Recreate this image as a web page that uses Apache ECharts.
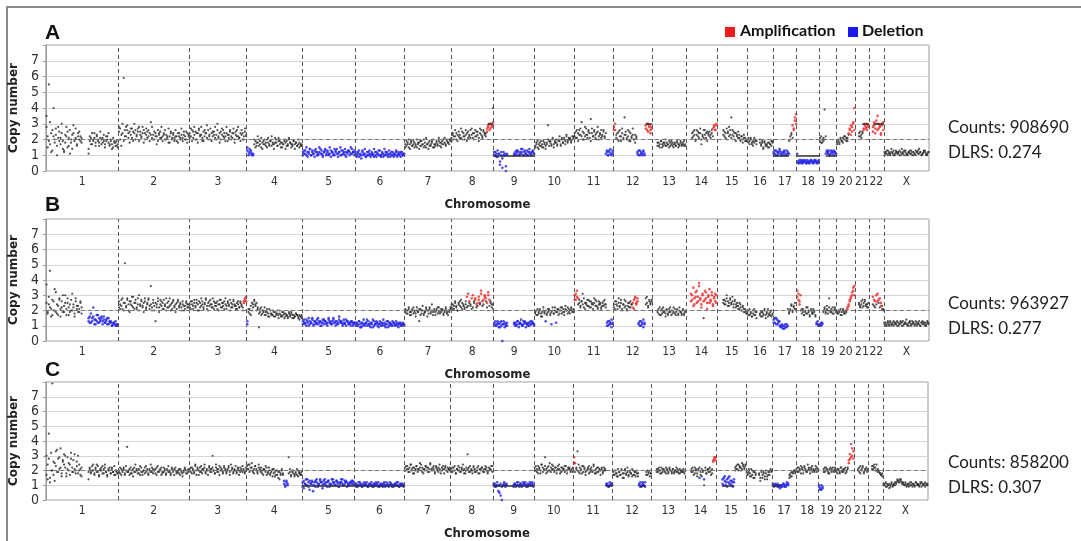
<!DOCTYPE html>
<html>
<head>
<meta charset="utf-8">
<script src="https://cdn.jsdelivr.net/npm/echarts@6/dist/echarts.min.js"></script>
<style>
html, body { margin: 0; padding: 0; background: #fff; }
#main { width: 1081px; height: 541px; }
</style>
</head>
<body>
<div id="main"></div>
<script>
// chromosomes and their lengths (Mb, hg19)
var chromNames = ['1','2','3','4','5','6','7','8','9','10','11','12','13','14','15','16','17','18','19','20','21','22','X']
var chromLengths = [249.25, 243.2, 198.0, 191.15, 180.9, 171.1, 159.1, 146.4, 141.2, 135.5, 135.0, 133.9,
  115.2, 107.3, 102.5, 90.4, 81.2, 78.1, 59.1, 63.0, 48.1, 51.3, 155.3]
var yTicks = [0, 1, 2, 3, 4, 5, 6, 7]

// copy number per bin, in tenths. letter sets the call: k normal, r amplification, b deletion. '.' = no data
var cnA = [
  '35 22 55 17 12 26 40 20 23 16 28 19 21 24 14 13 18 22 25 16 11 20 23 29 19 21 17 24 20 22 18 . . . . . 11 19 21 17 20 24 18 22 19 16 21 20 18 23 17 19 22 18 16 20 17 15 19 18 16 17',
  '25 27 16 24 59 22 28 26 21 25 23 27 19 24 26 22 25 28 23 21 24 26 20 23 25 22 24 31 21 23 20 24 22 19 23 25 21 22 24 20 23 21 18 22 24 20 23 21 22 19 24 22 20 23 21 25 22 20 24 23',
  '24 22 26 21 23 25 20 24 27 22 23 19 25 22 24 21 26 23 20 24 22 25 21 23 30 22 24 20 23 26 21 22 24 19 23 25 22 21 24 20 23 26 22 21 24 23 20 22 25 23',
  'b15 12 11 13 10 11 k17 19 16 18 20 17 15 18 19 17 16 20 18 17 19 16 18 17 21 18 16 19 17 18 15 17 19 18 16 17 20 18 17 16 19 17 18 16 17 18 16 17',
  'b12 11 13 10 12 11 14 10 12 11 13 12 10 11 12 14 11 10 12 13 11 12 10 11 13 12 11 10 12 14 11 12 10 13 11 12 10 12 11 13 12 11 14 12 10',
  'b11 10 12 9 11 10 13 10 11 9 12 10 11 10 12 11 9 10 12 11 10 13 10 11 9 10 12 11 10 11 9 12 10 11 10 12 9 11 10 12 11 10 11',
  '17 16 18 15 17 19 16 17 18 16 15 17 18 19 16 17 20 16 15 17 18 16 17 19 15 17 16 18 17 19 16 18 17 20 18 17 19 18 20 19',
  '21 23 20 22 24 19 22 23 21 25 22 20 23 24 21 22 26 23 21 24 22 25 23 21 24 26 22 25 23 24 r27 29 26 30 28 k40',
  'b10 12 11 9 11 4 10 2 12 10 0 11 . . . . . 10 12 11 13 10 12 11 14 10 12 11 13 10 12 11 12 13 11',
  '16 18 15 17 16 19 17 15 18 16 17 29 19 18 16 20 17 19 18 16 20 19 17 21 18 20 19 22 18 20 21 19 20 22',
  '22 25 21 24 26 23 31 20 24 22 27 23 25 21 33 24 22 26 23 20 25 22 24 21 23 26 22 24 b12 10 13 11 10 12',
  'r28 26 k23 20 25 22 19 24 21 34 23 20 22 25 19 21 23 20 18 22 b12 10 13 11 10 12 11 r29 26 30 28 24 27',
  '. . . . 18 16 17 19 15 18 17 16 18 17 19 16 17 18 15 17 16 18 17 16 19 17 18 16 17',
  '. . . . . 24 22 26 20 23 25 21 24 17 22 26 23 21 25 24 22 23 26 r27 29 26 30',
  '. . . . . 23 25 21 27 24 22 26 34 23 25 20 24 22 21 23 19 22 20 21 19 20',
  '20 18 19 21 17 19 18 20 19 . . 18 17 19 14 18 16 17 15 18 17 16 19',
  'b12 11 13 10 12 14 11 10 12 13 11 10 12 11 k20 23 21 r26 32 36',
  'b11 6 5 7 6 5 6 7 5 6 6 5 7 6 5 6 7 6 5 6',
  '21 18 20 19 39 22 b12 11 13 10 12 11 13 12 11',
  '17 19 18 20 19 21 20 22 19 21 23 r26 29 25 31 40',
  '. . . 24 22 23 25 r27 30 28 26 29',
  '. . . r28 31 24 30 35 27 29 23 30 26',
  '12 11 13 10 12 11 14 12 10 11 13 12 11 10 12 14 11 13 12 10 11 12 13 11 12 10 11 13 12 11 14 12 10 11 12 13 11 10 12'
]
// second read per bin, same layout
var cnA2 = [
  '28 15 19 31 24 13 22 18 27 10 21 25 17 30 19 12 23 28 15 21 26 18 14 24 20 27 16 22 25 19 21 . . . . . 14 22 17 24 19 21 16 23 20 18 25 17 21 19 15 22 20 24 17 19 14 21 18 16 19 15',
  '28 20 23 30 19 26 22 29 24 18 27 21 25 30 20 23 27 19 25 22 28 18 24 27 21 26 19 23 28 20 25 22 17 26 24 21 28 19 23 26 20 22 27 18 25 21 24 19 26 22 18 24 21 27 19 23 20 25 18 22',
  '21 27 19 25 28 20 24 18 26 23 28 21 19 26 24 29 20 22 27 19 25 23 28 20 26 21 18 25 27 22 24 19 28 23 21 26 20 24 27 18 25 22 28 21 19 26 24 20 27 22',
  'b13 10 14 12 11 10 k20 15 18 22 16 19 21 14 17 20 18 15 21 16 19 22 17 14 18 20 16 21 19 15 18 17 20 14 19 16 21 18 15 17 19 14 18 16 20 15 17 16',
  'b10 13 11 15 9 12 14 10 13 11 9 14 12 10 15 11 13 9 12 14 10 13 11 15 9 12 10 14 13 11 9 12 15 10 13 11 14 9 12 13 10 15 11 12 13',
  'b12 9 11 13 10 8 12 11 14 9 10 12 13 9 11 10 14 12 9 11 13 10 9 12 11 14 10 12 9 13 11 10 12 9 11 13 10 12 11 9 12 10 11',
  '15 19 17 20 14 18 16 19 15 17 20 18 14 16 19 17 15 18 21 17 14 19 16 18 20 15 17 19 16 21 18 15 19 17 21 16 20 18 17 20',
  '19 24 22 26 20 23 25 21 27 20 24 22 26 19 25 23 21 27 24 20 26 22 25 19 27 23 21 26 24 22 r25 28 30 27 29 31',
  'b12 10 9 13 11 6 12 8 10 11 3 10 . . . . . 11 10 13 12 10 11 14 12 10 13 11 10 12 14 11 10 12 11',
  '15 17 19 14 18 16 15 19 17 14 18 20 16 19 17 21 15 18 20 17 19 22 16 20 18 21 17 23 19 21 20 18 22 21',
  '24 21 26 19 23 27 22 25 20 28 23 21 26 24 19 27 22 25 21 24 28 20 23 26 22 25 21 b11 13 10 12 14 11 13',
  'r26 30 k21 24 19 26 22 27 20 23 25 21 26 19 24 22 27 20 23 21 b11 13 10 12 11 13 10 r27 30 25 29 26 28',
  '. . . . 16 18 15 19 17 16 18 20 16 17 15 18 19 16 17 18 16 19 15 17 18 16 17 19 16',
  '. . . . . 21 25 23 19 26 22 24 27 20 23 21 26 24 19 23 25 21 24 22 r28 26 29',
  '. . . . . 26 22 24 20 25 28 23 21 26 22 24 19 23 25 21 20 22 18 23 21 19',
  '19 21 17 20 18 16 21 19 17 . . 20 16 18 15 19 17 16 18 15 17 19 18',
  'b11 13 10 12 11 13 12 10 11 12 10 13 11 k19 22 24 r29 27 34 30',
  'b6 5 7 6 5 7 6 6 5 7 5 6 7 6 5 7 6 5 6 7',
  '19 22 18 21 20 b11 13 12 10 11 13 12 10 12 11',
  '18 20 17 21 19 18 22 20 21 19 r24 27 23 28 30 26',
  '. . . 22 25 21 24 r26 29 27 30 28',
  '. . . r25 29 27 32 26 30 28 24 29 31',
  '10 12 11 13 11 10 12 11 13 10 12 11 12 13 10 11 12 10 13 11 10 12 11 13 10 12 11 10 12 13 11 12 10 11 13 12 10 11 12'
]
var cnB = [
  '37 19 24 46 21 17 26 20 32 18 23 27 16 22 30 19 25 21 28 17 24 20 31 22 18 26 23 19 21 25 18 . . . . . b13 16 12 15 22 14 11 13 17 12 14 15 13 16 12 14 11 15 13 12 10 11 12 10 11 10',
  '22 24 27 21 25 51 23 28 20 26 24 29 22 25 27 21 24 30 23 26 22 25 28 21 24 27 23 36 22 25 20 13 24 26 22 27 23 25 21 24 28 22 26 23 20 25 27 22 24 21 26 23 25 22 24 20 23 26 22 24',
  '24 21 26 23 25 22 27 24 20 25 23 26 22 24 28 21 25 23 27 24 22 26 23 25 21 24 27 22 25 23 26 24 21 25 23 27 22 24 26 23 21 25 24 22 26 23 20 r26 28 29',
  'b11 k19 21 17 20 24 26 23 25 21 9 19 22 18 20 17 19 21 18 16 20 18 17 19 16 18 20 17 18 16 19 17 15 18 17 16 19 17 18 15 17 16 18 17 15 17 16 15',
  'b13 12 11 14 12 10 13 12 15 11 13 12 14 11 12 13 10 12 14 13 11 12 15 13 12 11 14 12 13 11 12 16 13 12 11 14 12 10 13 12 11 13 12 10 12',
  'b11 12 10 13 11 9 12 11 10 12 14 11 10 12 11 9 13 11 12 10 11 13 12 10 11 12 9 11 13 10 12 11 10 12 11 13 10 11 12 10 11 12 11',
  '19 20 18 21 19 17 20 22 19 18 20 19 13 21 18 20 17 19 22 20 18 21 19 24 17 20 19 21 18 22 20 19 21 18 20 22 19 17 20 21',
  '22 24 21 25 23 20 24 26 22 25 23 21 24 22 r31 k25 23 r28 k22 26 r27 24 k23 r29 k25 r33 26 k24 r30 28 k22 r32 27 k25 24 21',
  'b11 13 10 12 11 9 13 0 11 12 10 12 . . . . . 11 12 10 13 11 12 14 10 11 13 12 11 10 12 11 13 12 11',
  '18 20 17 19 21 18 16 20 19 b13 k18 21 20 17 19 22 18 20 b12 k19 21 18 20 22 19 17 21 20 22 19 18 21 20 19',
  'r30 27 33 28 k25 23 26 31 22 25 24 27 23 26 22 25 24 28 23 26 21 24 25 22 23 26 24 22 b12 10 13 11 9 12',
  '24 21 26 23 28 22 25 20 24 27 23 21 25 22 26 24 r22 27 29 25 28 b11 13 10 12 14 11 k28 25 22 27 24 26',
  '. . . . 19 21 17 20 18 22 19 16 20 18 21 19 17 20 22 18 19 21 17 20 19 18 20 17 19',
  '. . . . r31 27 35 24 29 33 26 38 28 22 30 k15 r27 32 25 29 34 26 30 23 28 31 25',
  '. . . . . 25 27 24 28 26 23 27 25 29 24 26 22 25 23 21 24 20 22 19 21 18',
  '18 20 17 19 16 18 21 17 19 . . 18 16 19 17 20 15 18 21 17 19 16 18',
  'b14 12 15 11 13 10 9 11 8 10 9 11 10 k19 21 23 20 22 25 21',
  'r33 27 24 30 k21 19 17 20 18 22 19 16 20 18 21 19 17 b12 11 10',
  'b10 12 11 k20 22 19 21 18 28 20 19 22 18 21 20',
  '19 18 20 17 19 21 18 20 19 r22 24 27 29 32 35 30',
  '. . . 24 23 26 22 25 27 23 24 22',
  '. . . 24 r27 k22 r30 26 k25 r28 23 k21 20',
  '11 12 10 13 11 12 10 11 13 12 11 10 12 11 13 12 10 11 12 14 11 10 12 11 13 12 10 11 12 11 13 10 12 11 12 10 11 13 12'
]
var cnB2 = [
  '25 18 29 22 16 27 20 34 19 24 17 28 21 26 19 23 30 17 25 22 19 27 20 24 16 28 21 23 19 26 22 . . . . . b15 12 18 13 16 11 14 17 12 15 13 16 11 14 12 13 15 11 12 13 10 12 11 13 10 11',
  '26 21 23 28 20 25 22 27 24 19 26 23 29 21 25 22 28 20 24 27 23 19 26 22 25 28 21 24 20 27 23 25 22 28 19 24 26 21 27 23 20 25 22 28 24 21 26 23 19 25 27 22 24 20 26 23 21 25 24 22',
  '22 26 24 21 27 23 25 20 26 22 28 24 21 25 27 23 20 26 24 22 28 21 25 23 26 20 24 27 22 25 21 28 23 26 24 20 25 22 27 24 23 21 26 22 25 24 22 r25 27 26',
  'b13 k21 18 23 25 22 27 24 20 22 18 21 17 20 19 22 17 19 16 21 18 17 20 16 19 17 18 15 20 17 16 19 18 16 17 15 18 16 19 17 15 16 18 17 16 14 16 17',
  'b11 14 12 10 13 15 11 12 14 10 13 11 12 15 13 10 12 14 11 13 12 10 14 12 11 13 15 12 10 13 11 14 12 13 10 12 11 14 13 11 12 10 13 11 12',
  'b12 10 11 13 9 12 10 14 11 12 10 13 11 9 12 14 10 11 13 12 9 11 10 12 14 10 11 13 9 12 11 10 13 12 10 11 12 9 11 12 10 11 10',
  '21 18 20 22 17 19 21 18 20 16 22 19 21 17 20 23 18 19 21 16 20 22 18 20 19 21 17 20 22 19 18 21 20 17 19 21 18 20 19 22',
  '24 21 23 26 22 20 25 23 27 21 24 22 26 r29 k23 r26 k24 21 r30 k25 r28 k22 r25 27 k24 r31 k23 r27 29 k26 r25 30 k23 26 22 24',
  'b12 10 11 13 9 12 10 11 13 9 11 10 . . . . . 12 10 11 13 9 12 11 10 13 12 9 11 12 10 13 11 12 10',
  '19 17 21 18 20 16 19 22 18 20 17 19 21 18 b11 k20 18 22 19 21 17 20 22 18 21 19 23 20 18 21 20 22 19 21',
  'r27 31 29 k24 27 22 26 24 28 21 25 23 27 22 26 24 21 25 27 23 22 26 24 21 25 23 27 24 b10 13 11 12 14 11',
  '22 26 24 21 25 23 27 21 24 22 26 20 23 25 22 24 r25 21 28 24 26 b12 10 13 11 9 12 k24 29 23 26 25 27',
  '. . . . 20 18 22 17 21 19 20 18 21 17 19 22 20 18 19 21 17 20 18 22 19 17 21 18 20',
  '. . . . r26 30 23 28 32 25 29 36 27 24 31 26 33 28 21 30 25 27 32 24 29 26 30',
  '. . . . . 27 24 26 30 23 25 28 24 26 22 27 24 23 21 25 22 20 23 21 19 20',
  '19 17 21 18 16 20 17 19 15 . . 17 19 16 18 21 17 19 16 18 17 20 17',
  'b12 15 11 14 12 13 10 9 10 8 11 9 k21 18 20 24 19 23 21 20',
  'r29 31 26 k20 18 21 17 19 22 18 20 17 21 19 18 20 16 b11 13 10',
  'b11 10 12 k19 21 18 23 20 22 19 21 18 20 22 19',
  '18 20 19 21 17 20 19 18 20 r21 23 26 28 30 33 36',
  '. . . 25 22 24 27 23 26 24 22 25',
  '. . . r29 k23 r26 k24 r31 27 k22 r25 k23 21',
  '12 10 11 12 10 13 11 12 10 11 12 13 10 11 12 10 13 11 12 11 10 12 13 10 11 12 11 13 10 12 11 10 12 13 11 12 10 12 11'
]
var cnC = [
  '30 14 45 12 20 79 17 25 33 19 28 21 35 18 26 31 22 16 29 20 24 32 19 27 21 18 23 30 20 17 22 . . . . . 14 21 19 23 20 18 22 24 19 17 21 20 23 18 22 19 16 21 20 18 22 19 17 20 19 18',
  '20 18 21 19 22 17 20 36 19 21 18 20 16 22 19 21 20 18 23 19 17 20 22 19 21 18 20 24 19 21 20 18 22 19 20 21 17 19 22 20 18 21 19 20 17 22 19 21 20 18 19 21 17 20 18 19 21 20 18 19',
  '21 19 22 20 18 23 20 21 17 22 19 21 20 24 18 21 20 22 19 21 30 20 18 22 21 19 23 20 21 18 22 20 19 21 23 17 20 22 19 21 20 18 22 20 19 21 23 20 19 22',
  '23 21 24 20 22 19 21 23 20 18 22 21 19 20 17 21 19 22 18 20 17 19 21 18 16 20 17 19 14 18 20 17 b11 9 13 10 k29 19 17 20 18 16 19 17 20 18 17 19',
  'b12 8 11 14 10 9 13 11 12 6 10 13 12 9 11 14 12 10 13 11 12 9 13 11 10 14 12 11 10 13 12 9 11 12 14 10 11 13 12 10 11 12 13 11 10',
  'b10 11 9 10 12 10 9 11 10 10 12 9 10 11 10 9 11 10 12 10 9 10 11 10 9 11 10 12 10 9 10 11 10 9 10 11 10 12 9 10 11 10 10',
  '22 20 23 21 19 24 21 22 18 20 23 21 20 22 24 19 21 20 23 22 19 21 25 20 22 21 19 23 20 22 21 18 20 23 21 22 20 19 21 22',
  '21 19 22 20 18 21 23 20 19 22 20 21 18 20 31 22 19 21 20 23 19 20 22 18 21 20 22 19 21 23 20 19 22 21 20 23',
  'b10 11 9 10 6 10 3 0 10 11 9 10 . . . . . 10 11 9 10 12 10 11 9 10 11 12 10 9 10 11 10 12 10',
  '22 20 19 23 21 18 24 22 20 29 21 19 23 20 22 24 21 19 22 20 23 21 18 22 20 21 19 23 20 22 21 19 20 22',
  'r29 25 k21 33 19 22 20 18 23 21 19 20 22 18 21 20 19 23 20 18 22 19 21 20 22 18 20 21 b11 10 9 10 11 10',
  '19 17 20 18 16 19 17 21 18 15 20 18 22 17 19 18 16 20 17 19 18 16 b11 9 10 12 10 9 k19 17 18 20 18',
  '. . . . 21 19 22 20 18 21 20 19 22 20 18 21 20 19 21 18 20 19 21 20 18 19 20 19 18',
  '. . . . . 21 19 17 22 20 18 21 b15 k19 16 20 10 22 18 20 21 19 17 21 r26 29 27',
  '. . . . . b14 10 16 12 9 15 11 13 10 12 14 k20 23 21 24 22 20 25 23 21 24',
  '20 18 19 16 21 17 19 15 18 . . 17 13 19 15 18 16 20 14 17 19 21 20',
  'b10 10 11 10 9 10 8 9 10 11 9 10 12 11 k15 18 16 19 20 18',
  '21 19 22 20 23 21 18 22 20 19 24 21 20 22 19 21 20 23 19 21',
  'b10 8 7 9 k21 19 22 20 18 21 20 19 22 20 21',
  '20 18 21 19 22 20 19 21 18 20 22 r25 28 38 30 33',
  '. . . 21 19 23 20 22 18 21 20 19',
  '. . . 23 21 24 22 20 21 19 18 17 16',
  '11 10 9 11 10 8 10 11 9 10 12 11 13 12 14 13 11 12 10 11 9 10 11 12 10 9 11 10 12 11 10 9 11 12 10 11 9 10 11'
]
var cnC2 = [
  '17 24 28 15 32 20 26 13 23 34 19 29 22 16 27 24 30 18 21 25 17 28 22 19 31 20 26 18 24 21 16 . . . . . 19 22 18 20 24 17 21 19 23 16 20 22 18 21 24 19 17 20 22 18 21 19 23 17 20 18',
  '19 22 17 20 21 18 23 19 20 17 22 18 21 19 24 20 18 21 17 22 19 20 18 23 20 17 21 19 22 18 20 21 17 23 19 20 22 18 19 21 17 20 23 19 18 21 20 17 22 19 20 18 21 19 16 20 22 18 20 21',
  '20 22 18 21 19 24 17 22 20 19 23 18 21 22 19 20 17 23 21 19 22 20 18 24 19 21 17 22 20 19 23 21 18 20 22 19 24 21 18 20 23 19 21 17 22 20 19 21 18 20',
  '21 24 19 22 25 20 18 23 21 19 24 20 22 18 21 20 23 17 19 22 18 20 16 21 19 17 20 15 19 17 21 18 b13 10 12 11 k18 21 16 19 20 17 18 21 16 19 18 17',
  'b9 13 11 10 14 12 7 11 13 10 12 9 14 11 10 13 12 8 11 14 10 12 13 9 11 10 14 12 10 13 11 9 12 14 11 10 13 12 9 11 10 12 11 13 12',
  'b11 9 10 12 10 11 9 10 12 11 10 9 11 10 12 10 9 11 10 11 12 9 10 11 10 12 9 10 11 10 12 11 9 10 11 10 12 10 9 11 10 11 9',
  '20 23 21 19 22 24 20 18 22 21 23 19 21 25 20 22 18 21 23 20 22 19 24 21 20 23 18 22 21 19 24 20 22 21 18 23 20 22 21 20',
  '19 22 20 23 18 21 20 22 19 21 24 18 20 22 21 19 23 20 18 22 21 19 20 23 18 21 22 20 19 21 22 18 20 21 23 19',
  'b11 9 10 12 10 5 11 9 10 12 10 11 . . . . . 9 11 10 12 10 9 11 10 12 11 10 9 11 10 12 10 11 9',
  '20 23 21 18 22 20 24 19 21 23 18 22 20 25 19 21 23 20 22 18 21 24 20 19 22 21 23 20 18 21 22 20 21 19',
  'r25 k19 22 20 24 18 21 23 19 22 17 20 21 23 19 22 20 24 18 21 19 22 20 17 21 19 22 20 b10 11 9 12 10 11',
  '17 20 18 16 21 19 17 20 15 18 21 17 19 16 20 18 21 17 19 16 20 18 b10 12 9 11 10 12 k17 20 19 16 18',
  '. . . . 19 21 20 18 22 19 21 20 18 21 19 22 20 18 21 19 20 22 19 18 21 20 19 21 20',
  '. . . . . 19 22 20 18 21 16 20 22 17 21 19 b14 k20 18 21 19 22 20 18 r27 28 29',
  '. . . . . b11 15 13 10 14 12 16 11 13 9 12 k22 21 24 20 23 22 21 24 22 23',
  '19 17 21 18 16 20 15 19 17 . . 18 15 20 17 19 14 18 16 19 17 20 19',
  'b11 9 10 10 11 9 10 10 9 11 10 9 11 10 k17 16 19 18 20 19',
  '20 22 19 21 18 22 20 23 21 19 20 22 18 21 23 20 19 21 22 20',
  'b9 7 10 8 k19 22 20 21 19 18 22 21 20 19 22',
  '19 21 20 18 22 19 21 20 22 19 21 r27 31 29 35 28',
  '. . . 20 22 18 21 23 19 20 22 21',
  '. . . 21 23 22 20 24 19 20 18 17 18',
  '10 11 12 9 10 11 9 12 10 11 10 12 14 13 12 14 12 11 10 12 10 11 9 10 12 11 10 9 12 10 11 10 12 9 11 10 12 11 10'
]

// called segments: [chromosome index, start Mb, end Mb, copy number]
var segA = [[7, 126, 146.4, 3], [8, 0, 141.2, 1], [11, 112, 133.9, 3], [16, 0, 55, 1], [17, 0, 78.1, 1],
  [18, 22, 59.1, 1], [20, 25, 48.1, 3], [21, 16, 51.3, 3]]
var segB = []
var segC = [[4, 0, 180.9, 1], [5, 0, 171.1, 1], [8, 0, 141.2, 1], [10, 112, 135, 1], [11, 92, 112, 1],
  [14, 20, 62, 1], [16, 0, 28, 1]]

var panelLetters = ['A', 'B', 'C']
var countValues = ['908690', '963927', '858200']
var dlrsValues = ['0.274', '0.277', '0.307']

// genome offsets
var starts = []
var total = 0
chromLengths.forEach(function(l) { starts.push(total); total += l })
var bounds = starts.slice(1)
var centers = chromLengths.map(function(l, i) { return starts[i] + l / 2 })

function parsePanel(rows, out) {
  rows.forEach(function(row, ci) {
    var toks = row.split(' ')
    var n = toks.length
    var state = 'k'
    toks.forEach(function(t, j) {
      if (t === '.') return
      if (/^[krb]/.test(t)) { state = t[0]; t = t.slice(1) }
      var x = starts[ci] + (j + 0.5) / n * chromLengths[ci]
      out[state].push([x, +t / 10])
    })
  })
  return out
}

var panels = [
  parsePanel(cnA2, parsePanel(cnA, { k: [], r: [], b: [] })),
  parsePanel(cnB2, parsePanel(cnB, { k: [], r: [], b: [] })),
  parsePanel(cnC2, parsePanel(cnC, { k: [], r: [], b: [] }))
]
var segs = [segA, segB, segC]

var grids = [
  { left: 43, top: 45, width: 886, height: 126 },
  { left: 40, top: 219, width: 889, height: 122 },
  { left: 36, top: 382, width: 892, height: 123 }
]
var letterY = [34, 206, 371]
var countsY = [127, 303, 462]

var tickFont = 'DejaVu Sans Condensed, Liberation Sans, sans-serif'
var xAxes = [], yAxes = [], series = [], graphics = []

grids.forEach(function(g, i) {
  g.show = true
  g.borderColor = '#9a9a9a'
  g.borderWidth = 1
  xAxes.push({
    type: 'value', gridIndex: i, min: 0, max: total,
    name: 'Chromosome', nameLocation: 'middle', nameGap: 27,
    nameTextStyle: { fontFamily: tickFont, fontWeight: 'bold', fontSize: 13, color: '#222' },
    axisLine: { show: false },
    axisTick: { show: false },
    splitLine: { show: false },
    axisLabel: {
      customValues: centers, margin: 5,
      fontFamily: tickFont, fontSize: 12, color: '#333',
      formatter: function(v) {
        var best = 0
        centers.forEach(function(c, k) { if (Math.abs(c - v) < Math.abs(centers[best] - v)) best = k })
        return chromNames[best]
      }
    }
  })
  yAxes.push({
    type: 'value', gridIndex: i, min: 0, max: 8, interval: 1,
    name: 'Copy number', nameLocation: 'middle', nameGap: g.left - 22,
    nameTextStyle: { fontFamily: 'DejaVu Sans', fontWeight: 'bold', fontSize: 12, color: '#222' },
    axisLine: { show: true, lineStyle: { color: '#9a9a9a' } },
    axisTick: { show: true, length: 3, lineStyle: { color: '#9a9a9a' } },
    splitLine: { show: true, lineStyle: { color: '#d4d4d4', width: 1.2 } },
    axisLabel: {
      margin: 7, fontFamily: tickFont, fontSize: 14, color: '#333',
      formatter: function(v) { return yTicks.indexOf(v) >= 0 ? String(v) : '' }
    }
  })
  var p = panels[i]
  // boundaries and the diploid reference line
  series.push({
    type: 'scatter', xAxisIndex: i, yAxisIndex: i, data: [], silent: true,
    markLine: {
      silent: true, symbol: 'none', label: { show: false },
      lineStyle: { color: '#555', type: [4, 3], width: 1 },
      data: bounds.map(function(b) { return { xAxis: b } }).concat([{ yAxis: 2, lineStyle: { color: '#777', type: [4, 3], width: 1 } }])
    }
  })
  series.push({
    type: 'scatter', xAxisIndex: i, yAxisIndex: i, data: p.k, symbolSize: 2.2,
    itemStyle: { color: '#262626' }, silent: true
  })
  series.push({
    type: 'scatter', xAxisIndex: i, yAxisIndex: i, data: p.b, symbolSize: 2.6,
    itemStyle: { color: '#2222e8' }, silent: true
  })
  series.push({
    type: 'scatter', xAxisIndex: i, yAxisIndex: i, data: p.r, symbolSize: 2.6,
    itemStyle: { color: '#f02828' }, silent: true
  })
  series.push({
    type: 'scatter', xAxisIndex: i, yAxisIndex: i, data: [], silent: true,
    markLine: {
      silent: true, symbol: 'none', label: { show: false },
      lineStyle: { color: '#333', type: 'solid', width: 1.5 },
      data: segs[i].map(function(s) {
        return [{ coord: [starts[s[0]] + s[1], s[3]] }, { coord: [starts[s[0]] + s[2], s[3]] }]
      })
    }
  })
  graphics.push({
    type: 'text', left: 45, top: letterY[i] - 11,
    style: { text: panelLetters[i], fontFamily: 'Liberation Sans', fontWeight: 'bold', fontSize: 21, fill: '#111' }
  })
  graphics.push({
    type: 'text', left: 948, top: countsY[i] - 12,
    style: { text: 'Counts: ' + countValues[i] + '\nDLRS: ' + dlrsValues[i], fontFamily: 'Lato', fontSize: 17, lineHeight: 25, fill: '#222' }
  })
})

// legend
graphics.push({ type: 'rect', shape: { x: 725, y: 27, width: 10, height: 10 }, style: { fill: '#f01a1a' } })
graphics.push({ type: 'text', left: 740, top: 23, style: { text: 'Amplification', fontFamily: 'Lato', fontWeight: 'bold', fontSize: 16, fill: '#111' } })
graphics.push({ type: 'rect', shape: { x: 848, y: 27, width: 10, height: 10 }, style: { fill: '#1a1af0' } })
graphics.push({ type: 'text', left: 862, top: 23, style: { text: 'Deletion', fontFamily: 'Lato', fontWeight: 'bold', fontSize: 16, fill: '#111' } })
// outer frame
graphics.push({ type: 'rect', shape: { x: 7, y: 7, width: 1090, height: 560 }, style: { fill: 'none', stroke: '#8a8a8a', lineWidth: 2 } })

var chart = echarts.init(document.getElementById('main'))
chart.setOption({
  animation: false,
  grid: grids,
  xAxis: xAxes,
  yAxis: yAxes,
  series: series,
  graphic: graphics
})
</script>
</body>
</html>
